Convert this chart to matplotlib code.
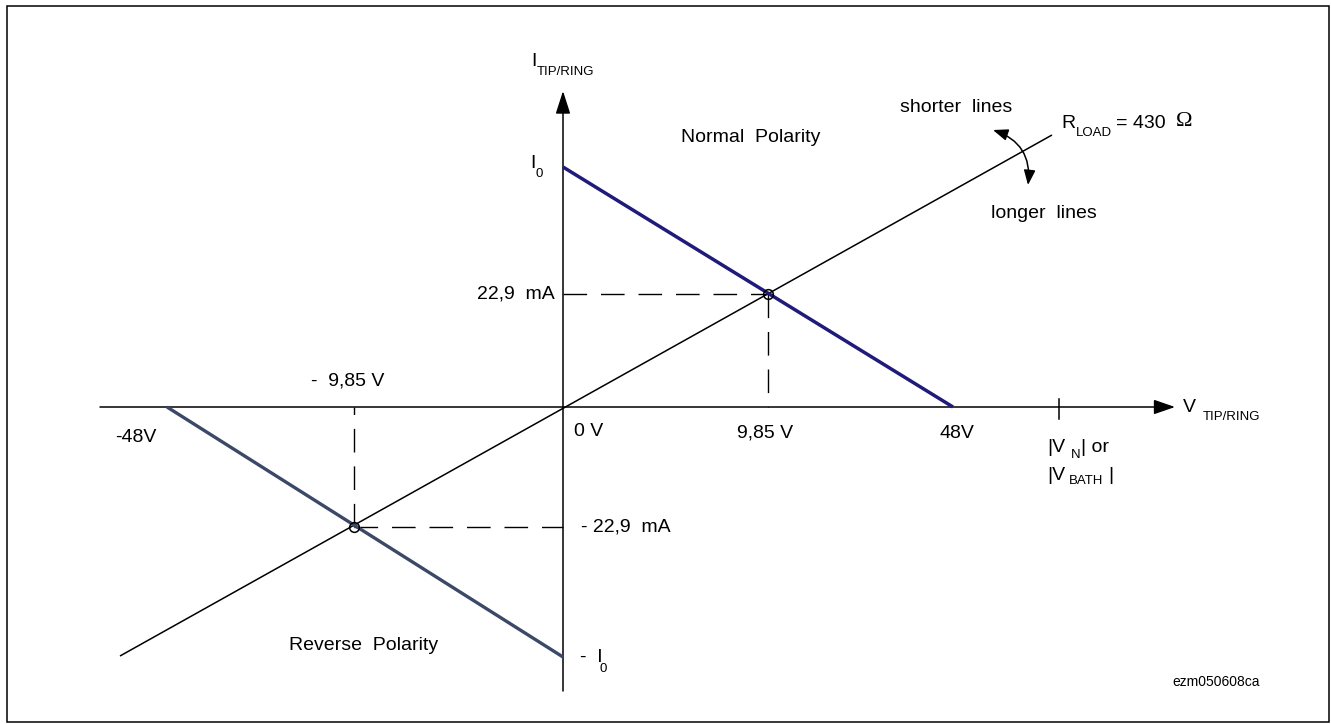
import matplotlib
matplotlib.use('Agg')
import matplotlib.pyplot as plt
from matplotlib.patches import FancyArrowPatch, Rectangle

plt.rcParams['font.family'] = ['Liberation Sans', 'DejaVu Sans']

# Schematic I/V diagram of the line feed (axes are not drawn to scale).
# Diagram units: x = position along V_TIP/RING, y = position along I_TIP/RING.
normal_feed_v = [0, 390]          # I0 at 0 V down to 0 mA at 48 V
normal_feed_i = [240, 0]
reverse_feed_v = [-396, 0]        # 0 mA at -48 V down to -I0 at 0 V
reverse_feed_i = [0, -250]
load_v = [-443, 489]              # R_LOAD = 430 ohm through the origin
load_i = [-249, 272]
op_v = [205, -209]                # operating points (+/-9,85 V ; +/-22,9 mA)
op_i = [113, -120]
v_bath_pos = 496

FS = 14
SUB = 9.5
NAVY = '#1f1b7b'
SLATE = '#3b4868'

fig = plt.figure(figsize=(13.31, 7.24), dpi=100)
ax = fig.add_axes([0, 0, 1, 1])
ax.set_xlim(-563, 768)
ax.set_ylim(-317, 407)
ax.axis('off')

# frame
ax.add_patch(Rectangle((-556, -315), 1322, 716, fill=False, lw=1.1, ec='black'))

# axes with arrow heads
ax.add_patch(FancyArrowPatch((-463, 0), (612, 0), arrowstyle='-|>,head_length=1.3,head_width=0.45',
                             mutation_scale=10, lw=1.1, color='black', shrinkA=0, shrinkB=0))
ax.add_patch(FancyArrowPatch((0, -284), (0, 316), arrowstyle='-|>,head_length=1.4,head_width=0.45',
                             mutation_scale=10, lw=1.1, color='black', shrinkA=0, shrinkB=0))
# tick for |V_N| / |V_BATH|
ax.plot([v_bath_pos, v_bath_pos], [8, -12], color='black', lw=1.1)

# dashed guides to the operating points
dash = (0, (17, 10))
ax.plot([0, op_v[0]], [op_i[0], op_i[0]], color='black', lw=1.0, ls=dash)
ax.plot([op_v[0], op_v[0]], [op_i[0], 0], color='black', lw=1.0, ls=dash)
ax.plot([op_v[1], 0], [op_i[1], op_i[1]], color='black', lw=1.0, ls=dash)
ax.plot([op_v[1], op_v[1]], [op_i[1], 0], color='black', lw=1.0, ls=dash)

# load line and feed characteristics
ax.plot(load_v, load_i, color='black', lw=1.1, solid_capstyle='butt')
ax.plot(normal_feed_v, normal_feed_i, color=NAVY, lw=2.5, solid_capstyle='butt')
ax.plot(reverse_feed_v, reverse_feed_i, color=SLATE, lw=2.4, solid_capstyle='butt')

# operating point markers
ax.plot(op_v, op_i, 'o', ms=7, mfc='none', mec='black', mew=1.1)

# curved arrow between shorter / longer lines
ax.add_patch(FancyArrowPatch((430, 277), (465, 222), connectionstyle='arc3,rad=-0.4',
                             arrowstyle='<|-|>,head_length=0.9,head_width=0.35',
                             mutation_scale=10, lw=1.1, color='black', shrinkA=0, shrinkB=0))

def txt(x, y, s, size=FS, ha='left', va='center', **kw):
    ax.text(x, y, s, fontsize=size, ha=ha, va=va, **kw)

# axis titles
txt(-32, 345, 'I')
txt(-26, 335, 'TIP/RING', size=SUB)
txt(620, 0, 'V')
txt(640, -10, 'TIP/RING', size=SUB)

# current marks
txt(-33, 243, 'I')
txt(-28, 233, '0', size=SUB)
txt(-8, 113, '22,9  mA', ha='right')
txt(18, -120, '- 22,9  mA')
txt(17, -250, '-  I')
txt(37, -262, '0', size=SUB)

# voltage marks
txt(-448, -31, '-48V')
txt(-252, 26, '-  9,85 V')
txt(11, -25, '0 V')
txt(174, -26, '9,85 V')
txt(376, -26, '48V')
txt(484, -40, '|V')
txt(508, -48, 'N', size=SUB)
txt(518, -40, '| or')
txt(484, -68, '|V')
txt(506, -74, 'BATH', size=SUB)
txt(545, -68, '|')

# region and load annotations
txt(118, 269, 'Normal  Polarity')
txt(-274, -238, 'Reverse  Polarity')
txt(449, 300, 'shorter  lines', ha='right')
txt(428, 194, 'longer  lines')
txt(498, 284, 'R')
txt(513, 274, 'LOAD', size=SUB)
txt(553, 284, '= 430')
txt(613, 286, 'Ω', size=16, family=['Liberation Serif', 'DejaVu Serif'])

txt(609, -275, 'ezm050608ca', size=10)

fig.savefig('out.png', dpi=100)
